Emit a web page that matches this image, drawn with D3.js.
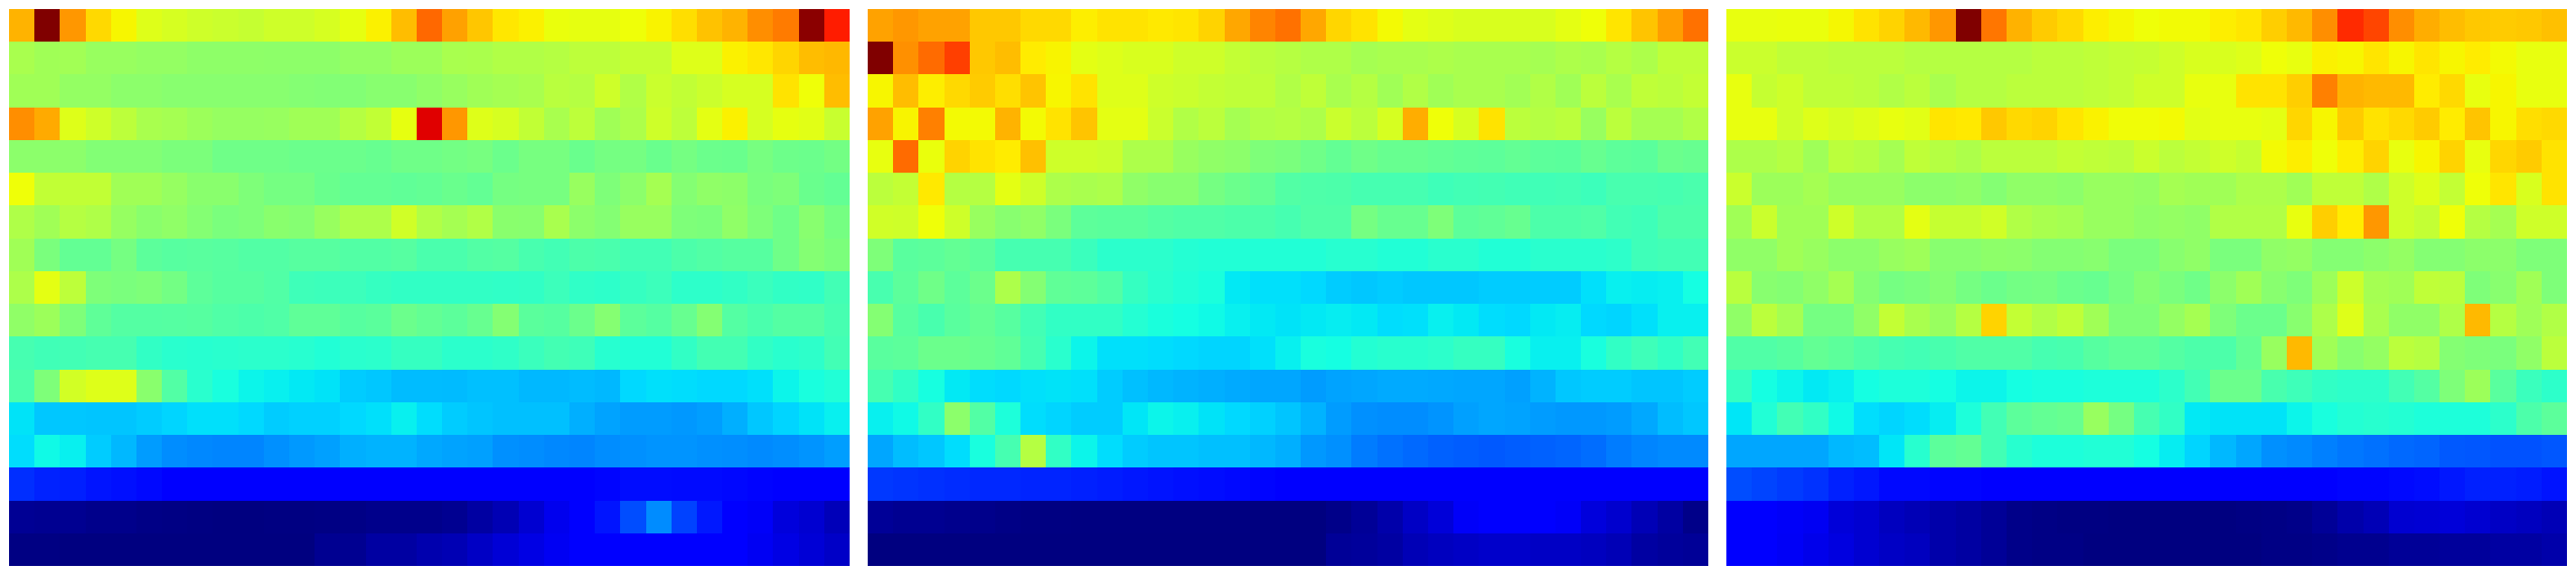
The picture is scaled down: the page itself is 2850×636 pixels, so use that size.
<!DOCTYPE html>
<html>
<head>
<meta charset="utf-8">
<script src="https://cdn.jsdelivr.net/npm/d3@7/dist/d3.min.js"></script>
<style>html,body{margin:0;padding:0;background:#fff}svg{display:block}</style>
</head>
<body>
<script>
const panelA = [
[72,100,75,68,65,62,61,60,59.5,59,60,60,61,63,65.5,71,80,74,70,66.5,65.5,63.5,63,63,64,65.3,67.5,70.5,72,76,78,99,88],
[55.5,54.5,54.7,53.5,53.5,53,53,52.3,52.3,52.3,52.2,52.2,52.2,53,53,54,54,55.5,55.7,56.5,56.5,57,58,58,59,59,62,62,65.5,66.5,68.5,71,71.5],
[54.5,54.5,53,53,52,52,51.5,51.5,51.5,51.5,51.5,51,50.8,50.8,51.5,51.5,52.5,53.5,54.5,55,55.5,57.5,57,60,56.5,59.5,58.5,59.7,61,61,67,64,71],
[76,73,62,60,57.8,55.5,55,54,53.2,53.2,53.5,54.5,54.5,57,58.5,63,91.7,75,62,61,58.5,55.5,58,54.5,56,60,58,62.7,65.5,61,63,62.3,59.3],
[52,52,52,50.8,50.8,50.8,50,50,48.5,48.5,48.5,48,48,48,47.5,48.5,48.5,49,49.5,48,49.5,49.5,47.8,49.2,49.2,47.8,49.2,48,47.8,49.5,48.2,48,49],
[64,58.5,58.5,58.5,54.5,54.5,53.2,51.7,51.7,50.3,49.2,49.2,47.8,47,47,46.7,47,47.8,47,49.2,49.5,49.5,53.5,50.3,52,55,51,52.5,52.2,49.7,50.3,47.8,47],
[56.3,54.5,57,56.3,53.2,51.7,52.5,51,49.8,50.3,51.7,51.2,53.5,56,56,60.3,56.5,55,56.5,51.7,51.5,55.5,52,51,53.5,53.5,50.3,50,52.5,50.3,48.5,51.5,49.2],
[54.5,49.8,47,47,49.2,46.2,45.6,45.8,45.6,45,45,45.6,45.6,45,45,45.4,44,44,45,45.3,43.7,43,44.3,44,43,43,44.3,45,45.5,45.5,48.5,51,50],
[56,62.7,58,50.3,49.8,50.3,49,46.3,45.5,45.5,44.8,42.5,42.3,42.3,41.5,41,41,41,41,40.8,41,42.3,40.8,40.5,41.5,42.3,40.5,40.5,41,42,41,40.8,43],
[52.5,54,50.3,46.5,45.2,45.2,45.3,45.5,44.7,44.3,44.7,46.5,46.5,45.5,46,48,47,46.2,47.5,51,46,45.5,48,51.2,46.2,45.3,47.5,51,45.2,44,45.2,45.2,43.5],
[43.5,42.8,43,43.5,43.5,41,40,39.7,40,40.2,40.2,39.7,39,40,40.2,41.5,41.5,40.2,40.2,40.7,42,43.2,42.5,39.7,39,39,41,43.2,43.2,41,40,40.5,43],
[44.3,50.3,60.5,62,62,51.7,45,40,38,36.5,36,35.3,34.8,32.5,32,30.9,30.9,30.8,31.3,31.3,30.5,30.5,30.9,30.5,33.8,34.5,34.2,33.8,33.8,34.5,36.5,38,39],
[34.8,32,32,31.8,31.8,32.5,33.4,34.5,34.5,33.8,32.5,33,33,33.8,34.5,36,34.2,32.5,31.8,31.3,31.3,31.3,29.7,28.5,27.8,27.8,27.4,28,29.7,32,33.4,34.8,36],
[34.2,37,36,32.5,30.5,27.8,26.3,25.8,25.5,25.5,26.6,27.5,28.2,29.7,30,30,29,28.5,28.2,26.6,26.3,25.8,25.5,26.3,26.6,27,27,26.6,26.4,26,26.4,27,28],
[17,15.8,15.5,14.5,14,13.3,12,12,12,12,12,12,12,12,12,12,12,12,12,12,12,12,12,12.9,13.7,13.7,13.5,13.5,13.2,12.8,12,12,12],
[1.8,1.5,1.5,1,1,.6,.4,.2,0,0,.2,.2,.4,.6,1,1,1,1.5,3,4.5,7,9.5,11.5,14.5,20,26.2,19,14.9,12,10.5,8,7,5],
[.3,.3,0,0,0,0,0,0,0,0,0,0,1.5,1.5,3,3,4,4.5,6,7.5,8.7,10,11.5,12,12,12,12,12,11.5,10,8.7,7.5,6.2]
];
const panelB = [
[73.8,75,73.8,73.8,69.8,69.8,68,68,65.8,67,67,66.3,66.7,68.7,73.3,77,79,73.3,68.3,67,64.5,62.7,62,61.3,61.3,61.3,61.3,62.7,64,66.7,70.3,74.3,79],
[100,75.7,79.7,84.3,69.8,71,66,65.2,62.7,62,61.3,61.3,60,60,58.7,57.7,57.1,56.3,56.3,55,55.5,55.5,56,55.5,55.5,55.5,55,56,55.5,57,56,58.2,58.2],
[65,71,65.8,68,69.5,67.5,70.3,65,67,62,62,60,59.5,58.7,58.2,58.2,56.5,58.2,55.5,57,54.5,56.5,54.5,55.5,55.5,54.7,56.5,54.5,57.7,55.5,58.2,57.7,58.7],
[73.8,65.2,77.5,64.5,64.5,72,64.5,67,70.3,62.7,62.7,59.5,56.5,57.7,55,56.5,57,56,59.5,57.7,61,72.7,64,61,67,57.7,57,57.7,53.5,57.7,55,55,56.5],
[63.2,79.7,63.5,68.7,67,66,70.7,60,60,59.5,56,56,53.5,52.5,52,50.3,49.8,48.5,47,48.5,47.5,47.5,47,46.5,46.3,47,46.2,46,47.5,46.3,46,48,47.5],
[57.7,58.7,66.3,57,57,62.7,60,56,55.5,56,52.5,51.5,51.5,49.2,48,47,45,44.5,44.3,43.5,43.5,43.5,42.5,43,43.2,42.8,42.8,43,42.3,43.7,43.7,43.5,44],
[60.3,60,64,60,53.5,51.5,52.5,49.8,46.3,46,46,45.2,44.7,44.7,44.3,44.3,43.5,44.7,44.7,49.2,47.5,47.5,50.3,46.2,46.7,47.5,44.3,44.3,44.7,43,42.5,44.3,44.3],
[50.3,45.8,46.2,47,46.2,43.5,43.5,43.5,42,40.2,40.2,40.2,39.4,39,39,39,39,39,39.7,39.7,39,39,40,40,39,39,40,40,40,40.5,42.5,43,43],
[43.7,46.2,48.5,46.2,48,56,51,46.7,46.3,45,41.5,40,39,38.2,35.3,34.5,34.5,33.8,32.5,32,32.5,32,32,32,32.5,32.5,32.5,32.5,34.5,36,35.7,36,37.5],
[51,45.6,43.8,45.8,47,45.6,43,41,41,41,39.4,38.2,37.5,37,36,35.3,34.8,35.3,35.7,35.3,34.2,34.5,36,35.3,34.2,33.8,35.3,35.7,33.8,33.4,34.5,36,36],
[45.8,46.2,48,48,47.5,46.7,43.5,40,36.5,34.5,34.5,34.2,33.8,33.4,33.4,34.5,36,38,37.5,39.3,39.9,39.9,40.3,41.5,41.5,38,36,36,38,41,42.5,41,43],
[43.5,41,37.8,35.3,34.2,33.8,34.5,34.8,34.5,32.5,31.3,30.5,30,29.7,29.2,28.8,28.8,27.8,28.5,28.8,29.2,29.2,29,28.8,28.8,28.2,30,32,32.5,32.5,31.8,31.8,32.5],
[36,37,41,52,45,38.5,34.2,33.4,32.5,32.5,35,36.5,36,34.8,33.8,33,31.8,30,27.8,26.6,26.3,26.3,27,28.2,28.8,28.5,27.8,27.4,27.4,27.8,29,31,32],
[28.8,31,32,34.2,38,43.5,57,41,36.5,34.2,32.5,31.8,31.8,31.3,31.3,30.5,29.7,27.4,26.6,24.7,23.6,22.8,22,21.6,21.2,21.6,22,22.4,23.2,24.7,25.5,26,26],
[18,17.6,17.2,16.8,16.4,16.4,16,16,15.6,15.2,14.8,14.4,14,13.7,13.3,12.9,12,12,12,12,12,12,12,12,12,12,12,12,12,12,12,12,12],
[2,1.5,1.5,1.2,1,.6,.2,.2,.1,.1,.1,.1,.1,.1,.1,0,0,0,.8,2,3.7,6,7.7,10.5,11.5,12,11.5,10.5,8,6.8,4.7,3,.8],
[0,0,0,0,0,0,0,0,0,0,0,0,0,0,0,0,0,0,2,2.4,3,4.7,5.5,6,6.5,6.5,6,6,5.5,4.7,3,2.4,2]
];
const panelC = [
[63.2,63.2,63.5,63.5,64.8,67,68.7,71.4,75,100,78.5,72.2,69.5,68,65.8,64.8,64,64.4,64.4,65.8,66.6,69.2,71.4,76,86.5,83.7,76,72.7,71,69.8,69.5,69.8,70.7],
[59.5,59.5,58.2,58.2,57.7,57.7,57.7,57,57,57,57,57,57.7,57.7,58.2,58.7,59,60,61.3,61.3,62,64,63.2,65.5,65,66.7,65,66.7,65,66,64.5,63.2,63.2],
[63.2,59,60,58.2,58.2,57.7,56.5,57.7,55.5,57,57,57.7,57.7,57.7,58.2,58.7,60,60,63.2,63.2,67,67,69.2,77.5,72,71.4,71.4,66,68,63.2,65,63.2,63.2],
[63.2,63.2,60,62,61,62,63.2,62.5,66.7,66.3,69.8,68,68.7,66.7,65.4,64.2,64.2,64.5,62.5,63.2,63.2,62.7,68.3,65,69.5,67,68,69.5,66,70.3,65,67.5,68],
[56,56,57,54.3,57.7,57,55,58.2,57,56,57.7,57.7,57.7,58.7,58.2,57.7,59.5,57.7,58.7,60,59,64.5,65.8,64,65.8,68.7,63.2,65,68.7,63.2,68.3,69.5,67],
[59.5,54,54,55,53.5,53.5,53.5,52,52,52.5,51,52.5,52.5,52,53.5,53.5,53,55,54.5,54.5,56,56,54.5,58.2,58.2,56.3,60,62,58.7,64,66.7,61.3,67],
[54.5,59.5,54.5,54.5,60,56.5,56.5,62.7,59,59,60.3,56.5,55.5,55,53.5,53.5,52.5,53,52.5,56.5,56.5,56.5,63.2,69.2,66,75,60,58.7,64,57,55,60,60],
[52.5,52.5,54.5,53.5,52,52,53.5,54.2,51.5,51.5,52.2,52,51,51,51.5,49.8,49.8,51.5,52.5,49.8,49.8,52.5,53,51,51,52,53,51,51,52,52,50.3,50.3],
[57.5,51.5,51,52.5,55,51,49.2,49.8,51,49.2,48,49,49.2,48,47.5,49.2,51,49.8,48.5,52,54.5,51.5,50.3,54,59.8,55,54.5,58.2,57.7,50.3,51.5,54.5,50.3],
[52.5,57.7,55,49.2,49.2,52.5,58.7,55.5,53.5,57,68.7,58.7,56.5,58.2,54.5,50.3,50.3,53,55,50.3,48,48,51.5,56,62,55.5,52.5,52.5,56.3,71.4,57,54.3,56.5],
[44.7,44.7,45.5,47,46.2,44.7,43.5,43,43.8,44.7,44.7,44.7,43.5,43.8,45.5,46.4,46.4,45.2,44.3,44.3,47,53.5,71.4,54.5,51.5,53,57.7,57,51,50.3,49.8,52.5,57.7],
[41.5,37.5,36.5,35.3,36,37.5,38.5,38.5,37.5,36.5,36.5,37.5,38,38,38.5,38.5,38.5,40.3,43,48,48,43.8,42.5,41,40.5,40.5,43,45.2,50.3,54,45.8,42,40.5],
[35,39,43,41,37,34.3,33.4,34.2,35.7,38.5,43,46.2,47,47.5,53.5,49.2,43.5,41,35.3,34.8,34.8,34.8,36.5,38,39.3,39.8,39.3,38.5,38.5,38.5,40.3,44.3,46.2],
[28.8,28.8,28.8,28.8,30.5,31,35,39.8,46.2,47,43,39.8,38.5,38.5,39,39,37.5,35.7,33.4,30.5,28.8,26.6,26,25,24.2,23.6,22.8,22.4,21.2,21,20.5,20.5,21],
[20,19.2,18.3,17.4,15.6,14.8,13.3,13.3,12.9,12.9,12,12,12,12,12,12,12,12,12,12,12,12,12,12.5,12.9,12.9,13.3,13.7,14.8,15.6,15.6,15.2,14.4],
[12,12,10.5,10,7.7,7,5.5,4.7,3.7,3,2,.8,.5,.2,.2,0,0,0,0,0,.3,.5,.8,2,3.7,4.7,7,7.3,7.7,7,6,5.5,4.7],
[12,12,10.3,9.3,8.3,7,6,5.5,3.7,3,2,.8,.5,.5,0,0,0,0,0,0,0,.5,.5,.8,1.3,1.3,2,2,2.4,2.4,3,3,3.7]
];
const panels = [panelA, panelB, panelC];
const panelLefts = [10, 960, 1910];
const panelWidth = 930, panelTop = 10, panelHeight = 616;

// matplotlib "jet" channel definitions, value domain 0..100
const red = d3.scaleLinear().domain([0,35,66,89,100]).range([0,0,1,1,.5]);
const green = d3.scaleLinear().domain([0,12.5,37.5,64,91,100]).range([0,0,1,1,0,0]);
const blue = d3.scaleLinear().domain([0,11,34,65,100]).range([.5,1,1,0,0]);
const jet = v => d3.rgb(Math.round(red(v)*255), Math.round(green(v)*255), Math.round(blue(v)*255)).formatHex();

const svg = d3.select("body").append("svg").attr("width",2850).attr("height",636);
panels.forEach((rows,p) => {
  const x = d3.scaleBand().domain(d3.range(rows[0].length)).range([panelLefts[p], panelLefts[p]+panelWidth]);
  const y = d3.scaleBand().domain(d3.range(rows.length)).range([panelTop, panelTop+panelHeight]);
  const g = svg.append("g").attr("shape-rendering","crispEdges");
  g.selectAll("g").data(rows).join("g").each(function(row,r){
    d3.select(this).selectAll("rect").data(row).join("rect")
      .attr("x",(d,i)=>x(i)).attr("y",y(r))
      .attr("width",x.bandwidth()).attr("height",y.bandwidth())
      .attr("fill",d=>jet(d));
  });
});
</script>
</body>
</html>
